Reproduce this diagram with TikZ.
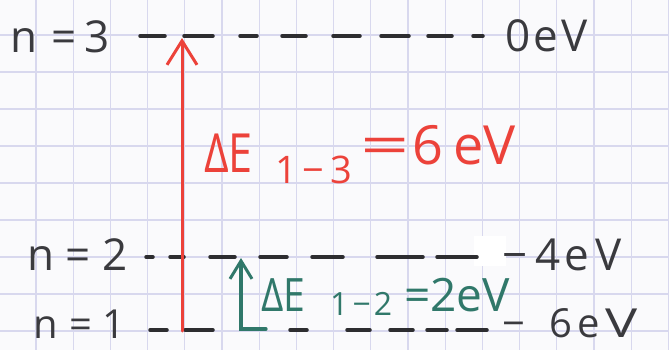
\documentclass[tikz,border=0pt]{standalone}
\usepackage{fontspec}
\setmainfont{Open Sans}
\usetikzlibrary{arrows.meta}
\definecolor{gridc}{RGB}{216,216,238}
\definecolor{ink}{RGB}{58,58,62}
\definecolor{dashink}{RGB}{45,45,48}
\definecolor{redink}{RGB}{236,66,58}
\definecolor{greenink}{RGB}{48,120,106}
\definecolor{paper}{RGB}{250,250,252}
\tikzset{
  gridline/.style={draw=gridc, line width=1.3pt},
  dashseg/.style={draw=dashink, line width=3.5pt, line cap=round},
  blk/.style={text=ink, inner sep=0pt, anchor=west, font=\fontsize{44}{44}\selectfont},
  blksm/.style={text=ink, inner sep=0pt, anchor=west, font=\fontsize{40}{40}\selectfont},
  redbig/.style={text=redink, inner sep=0pt, anchor=west, font=\fontsize{54}{54}\selectfont},
  redsub/.style={text=redink, inner sep=0pt, anchor=west, font=\fontsize{38}{38}\selectfont},
  grnbig/.style={text=greenink, inner sep=0pt, anchor=west, font=\fontsize{46}{46}\selectfont},
  grnsub/.style={text=greenink, inner sep=0pt, anchor=west, font=\fontsize{32}{32}\selectfont},
  redarrow/.style={draw=redink, line width=3pt, line cap=round,
    -{Straight Barb[length=24pt, width=30pt, line width=3pt]}},
  grnarrow/.style={draw=greenink, line width=3.2pt, line cap=round, line join=miter,
    -{Straight Barb[length=18pt, width=22pt, line width=3pt]}},
}
\begin{document}
\begin{tikzpicture}[x=1pt,y=-1pt]
\fill[paper] (0,0) rectangle (669,350);
\useasboundingbox (0,0) rectangle (669,350);
% graph paper
\foreach \i in {0,...,17} \draw[gridline] ({36+37.2*\i},0) -- ++(0,350);
\foreach \j in {0,...,8} \draw[gridline] (0,{35+37*\j}) -- ++(669,0);
\fill[white] (474,236) rectangle (506,266);
% level n=3
\foreach \a/\b in {140/165,184/213,240/257,282/306,333/360,381/409,428/452,473/483}
  \draw[dashseg] (\a,36) -- (\b,36);
% level n=2
\foreach \a/\b in {146/153,170/184,210/235,260/287,312/343,377/423,437/477}
  \draw[dashseg] (\a,257) -- (\b,257);
% level n=1
\foreach \a/\b in {150/167,185/213,290/307,347/370,390/413,427/447,457/487}
  \draw[dashseg] (\a,330) -- (\b,330);
% left labels
\node[blk] (n3) at (10,37) {n\hspace{14pt}=\hspace{8pt}3};
\node[blk] (n2) at (27,255) {n = 2};
\node[blksm] (n1) at (33,324) {n\hspace{12pt}=\hspace{10pt}1};
% right labels
\node[blk] (e3) at (505,36) {0\hspace{3pt}e\hspace{3pt}V};
\node[blk] (e2) at (502,255) {−\hspace{8pt}4\hspace{4pt}e\hspace{6pt}V};
\node[blksm] (e1) at (502,323) {−\hspace{24pt}6\hspace{6pt}e\hspace{5pt}\scalebox{1.35}[1]{V}};
% arrows
\coordinate (r1) at (182,331);
\coordinate (r3) at (182,38);
\draw[redarrow] (r1) -- (r3);
\coordinate (g0) at (266,329);
\coordinate (g1) at (241,329);
\coordinate (g2) at (241,258);
\draw[grnarrow] (g0) -- (g1) -- (g2);
% red label
\node[redbig] (rde) at (204,153) {\scalebox{0.8}[1]{ΔE}};
\node[redsub] (rsub) at (275,170) {1\hspace{6pt}−\hspace{6pt}3};
\node[redbig] (req) at (360,145) {\scalebox{1.6}[1]{=}\hspace{3pt}6\hspace{10pt}eV};
% green label
\node[grnbig] (gde) at (261,295) {\scalebox{0.85}[1]{ΔE}};
\node[grnsub] (gsub) at (330,304) {1\hspace{4pt}−\hspace{3pt}2};
\node[grnbig] (geq) at (404,295) {=2eV};
\end{tikzpicture}
\end{document}
